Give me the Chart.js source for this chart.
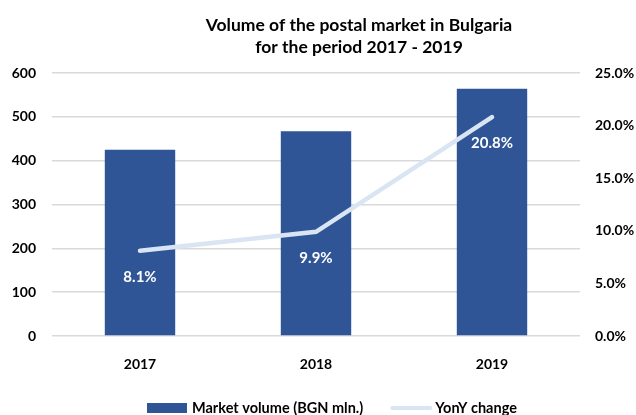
<!DOCTYPE html>
<html>
<head>
<meta charset="utf-8">
<script src="https://cdn.jsdelivr.net/npm/chart.js@4"></script>
<style>
  html, body { margin: 0; padding: 0; background: #fff; }
  #wrap { width: 636px; height: 415px; }
</style>
</head>
<body>
<div id="wrap"><canvas id="c" width="636" height="415"></canvas></div>
<script>
const categories = ["2017", "2018", "2019"];
const marketVolume = [425, 467, 564];
const yonyChange = [8.1, 9.9, 20.8];
const titleLines = ["Volume of the postal market in Bulgaria", "for the period 2017 - 2019"];
const seriesNames = ["Market volume (BGN mln.)", "YonY change"];

const FONT = "Lato, 'Open Sans', sans-serif";
const BAR_COLOR = "#2f5597";
const LINE_COLOR = "#dae5f4";

const labelPlugin = {
  id: "lineLabels",
  afterDatasetsDraw(chart) {
    const meta = chart.getDatasetMeta(0);
    const ctx = chart.ctx;
    ctx.save();
    ctx.font = "bold 15px " + FONT;
    ctx.fillStyle = "#ffffff";
    ctx.textAlign = "center";
    ctx.textBaseline = "middle";
    meta.data.forEach((pt, i) => {
      ctx.fillText(yonyChange[i].toFixed(1) + "%", pt.x, pt.y + 26);
    });
    ctx.restore();
  }
};

const titlePlugin = {
  id: "customTitle",
  afterDraw(chart) {
    const ctx = chart.ctx;
    ctx.save();
    ctx.font = "bold 17.5px " + FONT;
    ctx.fillStyle = "#000";
    ctx.textAlign = "center";
    ctx.textBaseline = "alphabetic";
    ctx.fillText(titleLines[0], 359, 31);
    ctx.fillText(titleLines[1], 359, 53);
    ctx.restore();
  }
};

const legendPlugin = {
  id: "customLegend",
  afterDraw(chart) {
    const ctx = chart.ctx;
    ctx.save();
    ctx.font = "bold 14.5px " + FONT;
    ctx.textBaseline = "alphabetic";
    ctx.textAlign = "left";
    const sw = 40, gap = 5, itemGap = 27;
    const w1 = ctx.measureText(seriesNames[0]).width;
    let x = 147;
    const yb = 412.5, yc = 408;
    ctx.fillStyle = BAR_COLOR;
    ctx.fillRect(x, yc - 5, sw, 10);
    x += sw + gap;
    ctx.fillStyle = "#000";
    ctx.fillText(seriesNames[0], x, yb);
    x += w1 + itemGap;
    ctx.strokeStyle = LINE_COLOR;
    ctx.lineWidth = 4;
    ctx.lineCap = "round";
    ctx.beginPath();
    ctx.moveTo(x + 2, yc);
    ctx.lineTo(x + sw, yc);
    ctx.stroke();
    x += sw + gap;
    ctx.fillStyle = "#000";
    ctx.fillText(seriesNames[1], x, yb);
    ctx.restore();
  }
};

new Chart(document.getElementById("c"), {
  data: {
    labels: categories,
    datasets: [
      {
        type: "line",
        label: seriesNames[1],
        data: yonyChange,
        yAxisID: "y1",
        borderColor: LINE_COLOR,
        backgroundColor: LINE_COLOR,
        borderWidth: 4.5,
        borderCapStyle: "round",
        pointRadius: 0,
        tension: 0,
        order: 0
      },
      {
        type: "bar",
        label: seriesNames[0],
        data: marketVolume,
        yAxisID: "y",
        backgroundColor: BAR_COLOR,
        categoryPercentage: 1,
        barPercentage: 0.4,
        order: 1
      }
    ]
  },
  options: {
    responsive: false,
    animation: false,
    devicePixelRatio: 1,
    layout: { padding: { left: 4, right: 0, top: 73, bottom: 24 } },
    plugins: {
      title: { display: false },
      legend: { display: false },
      tooltip: { enabled: false }
    },
    scales: {
      x: {
        grid: { display: false },
        border: { display: false },
        ticks: { color: "#000", font: { family: FONT, size: 14, weight: "bold" }, padding: 12 },
        afterFit(scale) { scale.height = 55; }
      },
      y: {
        position: "left",
        min: 0, max: 600,
        ticks: { stepSize: 100, color: "#000", font: { family: FONT, size: 14, weight: "bold" }, padding: 16 },
        grid: { color: "#d9d9d9", lineWidth: 1.5, drawTicks: false },
        border: { display: false },
        afterFit(scale) { scale.width = 48; }
      },
      y1: {
        position: "right",
        min: 0, max: 25,
        ticks: { stepSize: 5, color: "#000", font: { family: FONT, size: 14, weight: "bold" }, padding: 15,
          callback: v => v.toFixed(1) + "%" },
        grid: { display: false, drawTicks: false },
        border: { display: false },
        afterFit(scale) { scale.width = 56; }
      }
    }
  },
  plugins: [labelPlugin, titlePlugin, legendPlugin]
});
</script>
</body>
</html>
